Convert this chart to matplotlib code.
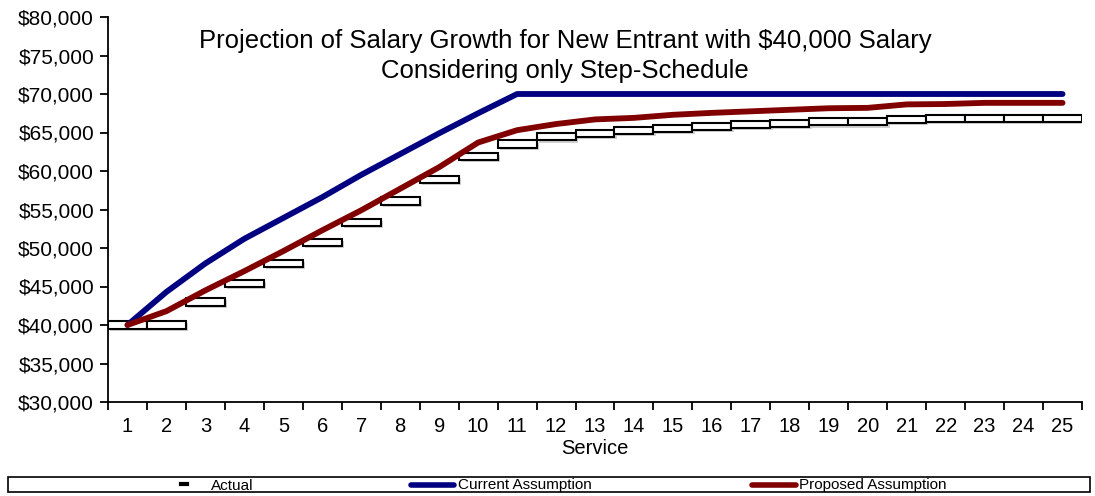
import matplotlib
matplotlib.use("Agg")
import matplotlib.pyplot as plt
from matplotlib.patches import Rectangle
from matplotlib.lines import Line2D
from matplotlib.ticker import FuncFormatter, FixedLocator, NullFormatter

plt.rcParams['font.family'] = ['Liberation Sans', 'DejaVu Sans']

service = list(range(1, 26))
actual = [40000, 40000, 43000, 45400, 48000, 50700, 53300, 56100, 58900, 61900,
          63500, 64450, 64900, 65300, 65550, 65800, 66050, 66200, 66400, 66400,
          66700, 66850, 66850, 66850, 66850]
current = [40000, 44300, 48000, 51200, 53900, 56600, 59500, 62200, 64900, 67500,
           70000, 70000, 70000, 70000, 70000, 70000, 70000, 70000, 70000, 70000,
           70000, 70000, 70000, 70000, 70000]
proposed = [40000, 41800, 44500, 47000, 49600, 52300, 54900, 57700, 60500, 63700,
            65300, 66100, 66700, 66900, 67300, 67550, 67750, 67950, 68150, 68200,
            68650, 68700, 68850, 68850, 68850]
y_ticks = list(range(30000, 80001, 5000))
title = "Projection of Salary Growth for New Entrant with $40,000 Salary\nConsidering only Step-Schedule"
labels = ["Actual", "Current Assumption", "Proposed Assumption"]

W, H = 1095, 496
fig = plt.figure(figsize=(W / 100, H / 100), dpi=100)
ax = fig.add_axes([108 / W, 1 - 402 / H, (1082 - 108) / W, (402 - 17) / H])

blue = "#000080"
red = "#800000"
box_h = 950

# shadow
ax.bar([s + 0.06 for s in service], [box_h] * len(service),
       bottom=[a - box_h / 2 - 280 for a in actual], width=1.0,
       color="#999999", alpha=0.45, linewidth=0, zorder=1)
ax.bar(service, [box_h] * len(service), bottom=[a - box_h / 2 for a in actual],
       width=1.0, facecolor="white", edgecolor="black", linewidth=1.5, zorder=2)

ax.plot(service, current, color=blue, lw=4.2, solid_capstyle="round",
        solid_joinstyle="round", zorder=3)
ax.plot(service, proposed, color=red, lw=4.2, solid_capstyle="round",
        solid_joinstyle="round", zorder=4)

ax.set_xlim(0.5, 25.5)
ax.set_ylim(30000, 80000)
ax.set_yticks(y_ticks)
ax.yaxis.set_major_formatter(FuncFormatter(lambda v, p: "${:,.0f}".format(v)))
ax.xaxis.set_major_locator(FixedLocator([s - 0.5 for s in service] + [25.5]))
ax.xaxis.set_major_formatter(NullFormatter())
ax.xaxis.set_minor_locator(FixedLocator(service))
ax.xaxis.set_minor_formatter(FuncFormatter(lambda v, p: str(int(round(v)))))
ax.tick_params(axis="x", which="major", direction="out", length=6, width=1.3)
ax.tick_params(axis="x", which="minor", length=0, pad=11, labelsize=14.5)
ax.tick_params(axis="y", direction="out", length=6, width=1.3, labelsize=15, pad=4)
for s in ["top", "right"]:
    ax.spines[s].set_visible(False)
for s in ["left", "bottom"]:
    ax.spines[s].set_linewidth(1.3)

ax.set_xlabel("Service", fontsize=14.5, labelpad=2)

fig.text(565 / W, 1 - 56 / H, title, ha="center", va="center", fontsize=18.5,
         linespacing=1.32)

# legend box
fig.add_artist(Rectangle((8 / W, 1 - 492 / H), (1090 - 8) / W, 15 / H,
                         transform=fig.transFigure, facecolor="white",
                         edgecolor="black", linewidth=1.2))
ly = 1 - 485.5 / H
leg_font = ['Liberation Sans Narrow', 'Liberation Sans', 'DejaVu Sans']
fig.add_artist(Line2D([181 / W, 187 / W], [ly + 2 / H, ly + 2 / H], color="black",
                      lw=3, transform=fig.transFigure))
fig.text(211 / W, ly, labels[0], fontsize=11, va="center", family=leg_font)
fig.add_artist(Line2D([411 / W, 454 / W], [ly + 1 / H, ly + 1 / H], color=blue, lw=4,
                      solid_capstyle="round", transform=fig.transFigure))
fig.text(458 / W, ly, labels[1], fontsize=11, va="center", family=leg_font)
fig.add_artist(Line2D([752 / W, 796 / W], [ly + 1 / H, ly + 1 / H], color=red, lw=4,
                      solid_capstyle="round", transform=fig.transFigure))
fig.text(799 / W, ly, labels[2], fontsize=11, va="center", family=leg_font)

fig.savefig("out.png", dpi=100)
